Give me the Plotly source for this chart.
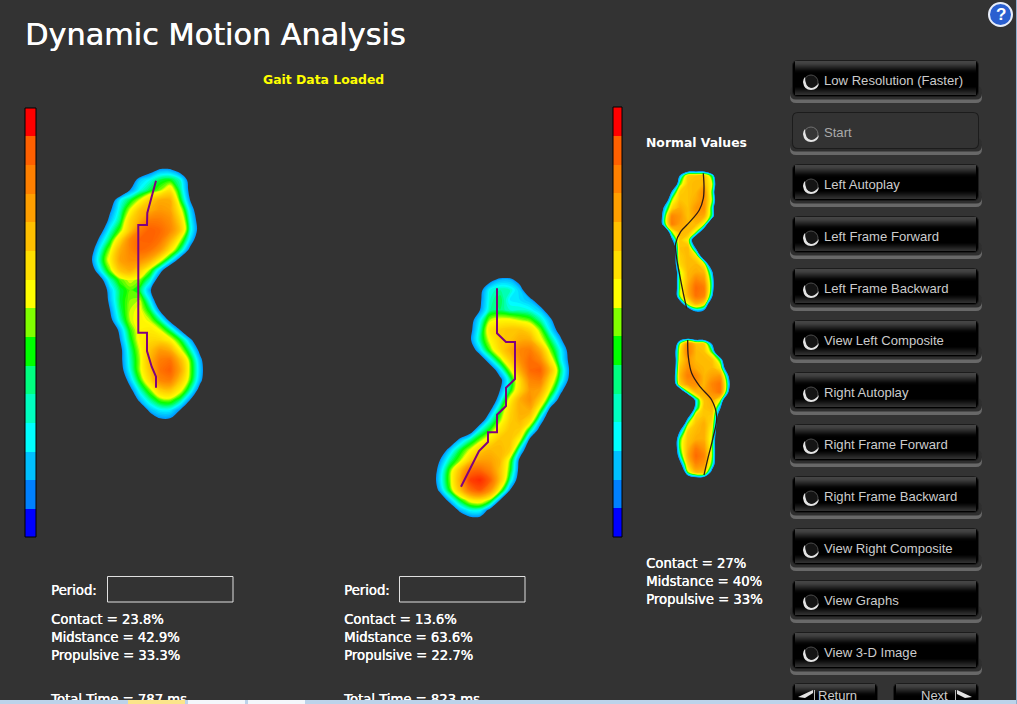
import plotly.graph_objects as go

# --- text
TITLE = "Dynamic Motion Analysis"
STATUS = "Gait Data Loaded"
BUTTON_LABELS = [
    "Low Resolution (Faster)", "Start", "Left Autoplay", "Left Frame Forward",
    "Left Frame Backward", "View Left Composite", "Right Autoplay",
    "Right Frame Forward", "Right Frame Backward", "View Right Composite",
    "View Graphs", "View 3-D Image",
]
LEFT_STATS = ["Contact = 23.8%", "Midstance = 42.9%", "Propulsive = 33.3%"]
RIGHT_STATS = ["Contact = 13.6%", "Midstance = 63.6%", "Propulsive = 22.7%"]
NORMAL_STATS = ["Contact = 27%", "Midstance = 40%", "Propulsive = 33%"]
LEFT_TOTAL = "Total Time = 787 ms"
RIGHT_TOTAL = "Total Time = 823 ms"

# --- pressure scale, top to bottom
BAR_COLORS = ["#ff0000", "#ff6000", "#ff8000", "#ff9f00", "#ffc000", "#ffdf00", "#ffff00",
              "#80ff00", "#00ff00", "#00ff80", "#00ffc0", "#00ffff", "#00c0ff", "#0080ff", "#0000ff"]
LEFT_BAR_EDGES = [108, 136, 165, 194, 222, 251, 280, 308, 337, 366, 394, 423, 452, 480, 509, 537]
RIGHT_BAR_EDGES = [107, 136, 165, 193, 222, 251, 279, 308, 336, 365, 394, 422, 451, 480, 508, 537]

# --- left foot pressure (below 0 = outside the foot)
LEFT_X = [90, 100, 110, 120, 130, 140, 150, 160, 170, 180, 190, 200, 210]
LEFT_Y = [160, 170, 180, 190, 200, 210, 220, 230, 240, 250, 260, 270, 280, 290,
          300, 310, 320, 330, 340, 350, 360, 370, 380, 390, 400, 410, 420, 430]
LEFT_Z = [
    [-10, -10, -10, -10, -10, -10, -10, -9, -9, -10, -10, -10, -10],
    [-10, -10, -10, -10, -10, -8, -3, 1, 1, -3, -10, -10, -10],
    [-10, -10, -10, -10, -5, 3, 6, 10, 11, 7, -3, -10, -10],
    [-10, -10, -10, -9, 0, 6, 10, 14, 20, 9, -2, -10, -10],
    [-10, -10, -5, 5, 10, 16, 24, 30, 30, 12, 0, -10, -10],
    [-10, -10, -1, 7, 16, 26, 30, 34, 32, 18, 4, -6, -10],
    [-10, -8, 2, 9, 22, 30, 40, 40, 36, 23, 6, -4, -10],
    [-10, -3, 6, 13, 25, 40, 46, 44, 38, 26, 7, -3, -10],
    [-8, 2, 10, 22, 38, 45, 46, 42, 30, 16, 4, -6, -10],
    [-4, 6, 15, 30, 38, 44, 42, 34, 20, 9, -2, -10, -10],
    [-2, 8, 18, 32, 36, 36, 30, 18, 7, -3, -10, -10, -10],
    [-5, 5, 14, 26, 30, 24, 14, 3, -7, -10, -10, -10, -10],
    [-10, -3, 7, 13, 16, 14, 7, -5, -10, -10, -10, -10, -10],
    [-10, -7, 3, 10, 13, 10, 1, -10, -10, -10, -10, -10, -10],
    [-10, -8, 2, 10, 14, 15, 5, -7, -10, -10, -10, -10, -10],
    [-10, -10, 0, 9, 15, 17, 10, -1, -10, -10, -10, -10, -10],
    [-10, -10, -2, 7, 15, 18, 15, 8, -2, -10, -10, -10, -10],
    [-10, -10, -8, 2, 12, 18, 19, 16, 9, 0, -10, -10, -10],
    [-10, -10, -10, 0, 10, 18, 22, 22, 18, 11, 2, -8, -10],
    [-10, -10, -10, -2, 8, 16, 26, 33, 30, 17, 8, -2, -10],
    [-10, -10, -10, -2, 7, 15, 28, 40, 42, 28, 13, 2, -8],
    [-10, -10, -10, -3, 6, 15, 26, 42, 46, 32, 14, 3, -7],
    [-10, -10, -10, -7, 3, 12, 22, 38, 40, 26, 13, 2, -8],
    [-10, -10, -10, -10, -2, 7, 14, 24, 26, 18, 8, -3, -10],
    [-10, -10, -10, -10, -8, 2, 8, 13, 14, 9, 0, -10, -10],
    [-10, -10, -10, -10, -10, -7, 2, 5, 5, 0, -10, -10, -10],
    [-10, -10, -10, -10, -10, -10, -6, -1, -1, -6, -10, -10, -10],
    [-10, -10, -10, -10, -10, -10, -10, -10, -10, -10, -10, -10, -10],
]
LEFT_PATH_X = [156, 153.3, 150, 147.3, 147, 138.3, 138.3, 147, 147, 151.7, 156, 156]
LEFT_PATH_Y = [180.7, 191.7, 205, 213, 225, 225, 332.7, 332.7, 351, 366.7, 376.7, 387.7]

# --- right foot pressure
RIGHT_X = [430, 440, 450, 460, 470, 480, 490, 500, 510, 520, 530, 540, 550, 560, 570, 580]
RIGHT_Y = [270, 280, 290, 300, 310, 320, 330, 340, 350, 360, 370, 380, 390, 400,
           410, 420, 430, 440, 450, 460, 470, 480, 490, 500, 510, 520, 530]
RIGHT_Z = [
    [-10, -10, -10, -10, -10, -10, -10, -10, -10, -10, -10, -10, -10, -10, -10, -10],
    [-10, -10, -10, -10, -10, -10, -2, 2, 2, -3, -10, -10, -10, -10, -10, -10],
    [-10, -10, -10, -10, -10, -2, 6, 8, 7, 3, -7, -10, -10, -10, -10, -10],
    [-10, -10, -10, -10, -10, -1, 7, 10, 5, 4, 2, -5, -10, -10, -10, -10],
    [-10, -10, -10, -10, -9, 0, 8, 9, 7, 7, 6, 3, -5, -10, -10, -10],
    [-10, -10, -10, -10, -3, 5, 15, 17, 17, 15, 13, 8, 2, -8, -10, -10],
    [-10, -10, -10, -10, -2, 7, 20, 24, 26, 26, 22, 14, 5, -3, -10, -10],
    [-10, -10, -10, -10, -1, 8, 17, 24, 26, 30, 30, 18, 10, 2, -8, -10],
    [-10, -10, -10, -10, -5, 4, 13, 22, 30, 38, 40, 30, 14, 6, -3, -10],
    [-10, -10, -10, -10, -10, -5, 4, 13, 24, 36, 44, 38, 20, 7, -2, -10],
    [-10, -10, -10, -10, -10, -10, -5, 4, 15, 30, 44, 46, 28, 10, -1, -10],
    [-10, -10, -10, -10, -10, -10, -10, -2, 8, 22, 38, 40, 22, 8, -2, -10],
    [-10, -10, -10, -10, -10, -10, -10, 0, 10, 22, 34, 32, 16, 3, -7, -10],
    [-10, -10, -10, -10, -10, -10, -7, 4, 18, 30, 36, 24, 8, -3, -10, -10],
    [-10, -10, -10, -10, -10, -10, -1, 10, 22, 30, 30, 14, -2, -10, -10, -10],
    [-10, -10, -10, -10, -10, -5, 6, 14, 24, 28, 22, 4, -7, -10, -10, -10],
    [-10, -10, -10, -10, -5, 6, 12, 20, 26, 24, 9, -3, -10, -10, -10, -10],
    [-10, -10, -7, 2, 8, 14, 20, 26, 26, 16, -2, -10, -10, -10, -10, -10],
    [-10, -6, 3, 10, 16, 24, 28, 28, 24, 5, -7, -10, -10, -10, -10, -10],
    [-10, 0, 8, 14, 24, 32, 32, 28, 14, -2, -10, -10, -10, -10, -10, -10],
    [-7, 3, 13, 26, 42, 44, 38, 26, 12, -3, -10, -10, -10, -10, -10, -10],
    [-6, 4, 14, 30, 52, 56, 46, 26, 8, -5, -10, -10, -10, -10, -10, -10],
    [-8, 2, 12, 26, 42, 48, 36, 16, 0, -10, -10, -10, -10, -10, -10, -10],
    [-10, -6, 3, 11, 18, 20, 14, 0, -10, -10, -10, -10, -10, -10, -10, -10],
    [-10, -10, -7, 2, 6, 6, -2, -10, -10, -10, -10, -10, -10, -10, -10, -10],
    [-10, -10, -10, -8, -3, -3, -8, -10, -10, -10, -10, -10, -10, -10, -10, -10],
    [-10, -10, -10, -10, -10, -10, -10, -10, -10, -10, -10, -10, -10, -10, -10, -10],
]
RIGHT_PATH_X = [497, 497, 506, 515, 515, 506, 506, 497, 497, 488, 488, 479, 461]
RIGHT_PATH_Y = [288.3, 333.3, 342, 342, 379, 387.7, 406, 414.7, 432.3, 432.3, 442, 451, 486.7]

# --- normal values, upper foot
NORMAL_TOP_X = [656, 664, 672, 680, 688, 696, 704, 712, 720]
NORMAL_TOP_Y = [168, 176, 184, 192, 200, 208, 216, 224, 232, 240, 248, 256, 264, 272, 280, 288, 296, 304, 312, 320]
NORMAL_TOP_Z = [
    [-40, -40, -40, -40, -26, -26, -26, -40, -40],
    [-40, -40, -40, 0, 24, 26, 26, 10, -40],
    [-40, -40, -30, 12, 26, 28, 28, 16, -30],
    [-40, -40, 0, 24, 26, 28, 36, 12, -40],
    [-40, -20, 14, 26, 26, 30, 36, 14, -30],
    [-40, 0, 22, 30, 26, 34, 36, 8, -40],
    [-30, 6, 38, 34, 26, 32, 30, 8, -40],
    [-30, 6, 40, 32, 28, 28, 16, -30, -40],
    [-40, -30, 14, 28, 28, 14, -20, -40, -40],
    [-40, -40, -5, 26, 18, -25, -40, -40, -40],
    [-40, -40, -25, 26, 28, -5, -40, -40, -40],
    [-40, -40, -25, 24, 28, 20, -20, -40, -40],
    [-40, -40, -25, 22, 28, 28, 18, -25, -40],
    [-40, -40, -30, 14, 28, 30, 28, 0, -40],
    [-40, -40, -30, 14, 28, 38, 34, 6, -40],
    [-40, -40, -30, 14, 30, 44, 40, 6, -40],
    [-40, -40, -30, 14, 28, 42, 38, 0, -40],
    [-40, -40, -40, -15, 16, 28, 20, -25, -40],
    [-40, -40, -40, -40, -25, -5, -10, -40, -40],
    [-40, -40, -40, -40, -40, -40, -40, -40, -40],
]
NORMAL_TOP_PATH_X = [703.3, 704, 703.3, 699.3, 690, 680.7, 675.7, 676.7, 680, 683.3, 686.7]
NORMAL_TOP_PATH_Y = [173.3, 186.7, 198.3, 210, 221.7, 231.7, 243.3, 258.3, 276.7, 293.3, 308.3]

# --- normal values, lower foot
NORMAL_BOTTOM_X = [664, 672, 680, 688, 696, 704, 712, 720, 728, 736]
NORMAL_BOTTOM_Y = [336, 344, 352, 360, 368, 376, 384, 392, 400, 408, 416, 424, 432, 440, 448, 456, 464, 472, 480, 488]
NORMAL_BOTTOM_Z = [
    [-40, -40, -24, -24, -30, -30, -40, -40, -40, -40],
    [-40, -30, 14, 38, 26, 24, -3, -40, -40, -40],
    [-40, -20, 20, 40, 28, 26, 12, -30, -40, -40],
    [-40, -25, 22, 34, 28, 28, 26, 10, -35, -40],
    [-40, -25, 26, 36, 30, 28, 28, 20, -20, -40],
    [-40, -20, 28, 40, 38, 28, 32, 34, 0, -40],
    [-40, -25, 24, 34, 36, 28, 38, 42, 6, -35],
    [-40, -40, -25, 12, 28, 30, 36, 42, 0, -40],
    [-40, -40, -40, -40, 4, 26, 30, 16, -30, -40],
    [-40, -40, -40, -35, 6, 26, 28, 0, -40, -40],
    [-40, -40, -40, -8, 22, 26, 24, -15, -40, -40],
    [-40, -40, -26, 14, 26, 30, 20, -20, -40, -40],
    [-40, -40, 0, 24, 28, 30, 16, -25, -40, -40],
    [-40, -26, 12, 26, 30, 30, 14, -30, -40, -40],
    [-40, -26, 12, 28, 40, 34, 14, -30, -40, -40],
    [-40, -30, 6, 30, 44, 38, 14, -30, -40, -40],
    [-40, -40, -8, 24, 38, 34, 10, -30, -40, -40],
    [-40, -40, -30, 14, 28, 26, -8, -40, -40, -40],
    [-40, -40, -40, -24, -20, -20, -40, -40, -40, -40],
    [-40, -40, -40, -40, -40, -40, -40, -40, -40, -40],
]
NORMAL_BOTTOM_PATH_X = [687.7, 688.3, 691.7, 700, 711.7, 716.7, 713.3, 708.3, 704]
NORMAL_BOTTOM_PATH_Y = [340, 356.7, 373.3, 386.7, 400, 416.7, 436.7, 456.7, 475]

BG = "#333333"
W, H = 1017, 704
ZMAX = 60


def foot(x, y, z, edge=-3):
    zmin = edge - 3

    def stop(v):
        return (v - zmin) / (ZMAX - zmin)

    scale = [
        [0, "rgba(0,144,255,0)"], [stop(edge - 0.01), "rgba(0,144,255,0)"], [stop(edge), "rgb(0,144,255)"],
        [stop(0), "rgb(0,200,255)"], [stop(3), "rgb(0,255,255)"], [stop(6), "rgb(0,255,144)"],
        [stop(9), "rgb(0,255,0)"], [stop(12), "rgb(128,255,0)"], [stop(14), "rgb(255,255,0)"],
        [stop(22), "rgb(255,208,0)"], [stop(31), "rgb(255,160,0)"], [stop(42), "rgb(255,112,0)"],
        [stop(55), "rgb(255,48,0)"], [1, "rgb(255,0,0)"],
    ]
    return go.Contour(
        x=x, y=y, z=z, zmin=zmin, zmax=ZMAX, colorscale=scale, showscale=False,
        autocontour=False, contours=dict(start=edge, end=ZMAX, size=1, coloring="fill"),
        line=dict(width=0, smoothing=1.0), hoverinfo="skip",
    )


def bar(left, right, edges):
    n = len(BAR_COLORS)
    scale = []
    for i, c in enumerate(BAR_COLORS):
        scale += [[i / n, c], [(i + 1) / n, c]]
    return go.Heatmap(
        x=[left, right], y=edges, z=[[i] for i in range(n)], zmin=-0.5, zmax=n - 0.5,
        colorscale=scale, showscale=False, hoverinfo="skip",
    )


def path(x, y, color, width, shape="linear"):
    return go.Scatter(x=x, y=y, mode="lines", line=dict(color=color, width=width, shape=shape), hoverinfo="skip")


def rounded(x0, y0, x1, y1, r):
    return (f"M {x0+r},{y0} L {x1-r},{y0} Q {x1},{y0} {x1},{y0+r} L {x1},{y1-r} Q {x1},{y1} {x1-r},{y1} "
            f"L {x0+r},{y1} Q {x0},{y1} {x0},{y1-r} L {x0},{y0+r} Q {x0},{y0} {x0+r},{y0} Z")


def rect(x0, y0, x1, y1, fill, line=None, layer="below"):
    return dict(type="rect", x0=x0, y0=y0, x1=x1, y1=y1, fillcolor=fill, layer=layer,
                line=dict(width=1 if line else 0, color=line or fill))


def blob(d, fill, layer="below"):
    return dict(type="path", path=d, fillcolor=fill, line=dict(width=0), layer=layer)


TOP_SHADES = ["#454545", "#434343", "#404040", "#3a3a3a", "#323232", "#2a2a2a", "#222222",
              "#1a1a1a", "#121212", "#0a0a0a", "#050505", "#020202"]
BOTTOM_SHADES = ["#040404", "#0a0a0a", "#101010", "#171717", "#1e1e1e", "#252525", "#2b2b2b", "#303030"]


def button(x0, x1, top, flat=False, lip=True):
    out = []
    if lip:
        out.append(blob(rounded(x0 - 2, top + 28, x1 + 3, top + 43, 6), "#686868"))
        out.append(blob(rounded(x0 - 2, top + 26, x1 + 3, top + 39.5, 6), "#2e2e2e"))
    out.append(blob(rounded(x0, top, x1, top + 37, 6), "#1c1c1c"))
    if flat:
        out.append(blob(rounded(x0 + 1, top + 1, x1 - 1, top + 36, 5), BG))
        return out
    out.append(blob(rounded(x0 + 1, top + 1, x1 - 1, top + 36, 5), "#000000"))
    for i, c in enumerate(TOP_SHADES):
        out.append(rect(x0 + 3, top + 1 + i, x1 - 3, top + 2 + i, c))
    for i, c in enumerate(BOTTOM_SHADES):
        out.append(rect(x0 + 3, top + 27 + i, x1 - 3, top + 28 + i, c))
    return out


def spinner(cx, cy, flat=False):
    body = "#363636" if flat else "#141414"
    ring = "#707070" if flat else "#4a4a4a"
    return [
        dict(type="circle", x0=cx - 7, y0=cy - 7, x1=cx + 7, y1=cy + 7, fillcolor=body,
             line=dict(width=1, color=ring), layer="below"),
        blob(f"M {cx-8},{cy} Q {cx-7},{cy+8} {cx},{cy+8} Q {cx+7},{cy+8} {cx+8},{cy+1} "
             f"Q {cx+4},{cy+6} {cx},{cy+6} Q {cx-6},{cy+5} {cx-6},{cy-5} Q {cx-8},{cy-3} {cx-8},{cy} Z",
             "#e4e4e4"),
    ]


fig = go.Figure()
fig.add_trace(bar(25, 36, LEFT_BAR_EDGES))
fig.add_trace(bar(613, 622, RIGHT_BAR_EDGES))
fig.add_trace(foot(LEFT_X, LEFT_Y, LEFT_Z))
fig.add_trace(foot(RIGHT_X, RIGHT_Y, RIGHT_Z))
fig.add_trace(foot(NORMAL_TOP_X, NORMAL_TOP_Y, NORMAL_TOP_Z, edge=-6))
fig.add_trace(foot(NORMAL_BOTTOM_X, NORMAL_BOTTOM_Y, NORMAL_BOTTOM_Z, edge=-6))
fig.add_trace(path(LEFT_PATH_X, LEFT_PATH_Y, "#800080", 2))
fig.add_trace(path(RIGHT_PATH_X, RIGHT_PATH_Y, "#800080", 2))
fig.add_trace(path(NORMAL_TOP_PATH_X, NORMAL_TOP_PATH_Y, "#2e1a14", 1.3, "spline"))
fig.add_trace(path(NORMAL_BOTTOM_PATH_X, NORMAL_BOTTOM_PATH_Y, "#2e1a14", 1.3, "spline"))

shapes = []
for i in range(len(BUTTON_LABELS)):
    top = 60 + 52 * i
    shapes += button(792, 979, top, flat=BUTTON_LABELS[i] == "Start")
    shapes += spinner(811, top + 22, flat=BUTTON_LABELS[i] == "Start")
shapes += button(792, 878, 683, lip=False)
shapes += button(893, 979, 683, lip=False)
shapes.append(blob("M 798,697 L 813,690 L 813,693 L 805,698 Z", "#e4e4e4"))
shapes.append(blob("M 957,690 L 972,697 L 965,698 L 957,694 Z", "#e4e4e4"))
shapes.append(rect(814, 690, 815, 700, "#bbbbbb"))
shapes.append(rect(955, 690, 956, 700, "#bbbbbb"))

# bar borders, period boxes
for x0, x1, y0, y1 in [(25, 36, 108, 537), (613, 622, 107, 537)]:
    shapes.append(dict(type="rect", x0=x0, x1=x1, y0=y0, y1=y1, line=dict(color="#000000", width=1), layer="above"))
for x0 in [107, 399]:
    shapes.append(dict(type="rect", x0=x0 + 0.5, x1=x0 + 126, y0=576.5, y1=602, line=dict(color="#e0e0e0", width=1), layer="below"))

# help icon
shapes.append(dict(type="circle", x0=989, y0=3, x1=1012, y1=26, fillcolor="#2a5fd0", line=dict(color="#e8eefa", width=2), layer="below"))

# taskbar covers the bottom of the page
shapes.append(rect(0, 700, W, H, "#bcd3ea", layer="above"))
shapes.append(rect(128, 700, 185, H, "#fbe58a", layer="above"))
shapes.append(rect(188, 700, 245, H, "#f4f7fb", layer="above"))
shapes.append(rect(248, 700, 305, H, "#f4f7fb", layer="above"))
shapes.append(rect(1016, 0, W, H, "#8fb0cf", layer="above"))

fig.update_layout(shapes=shapes)


def label(x, y, text, color="#ffffff", size=13, family="Liberation Sans", bold=False, anchor="left", shadow=None):
    t = f"<b>{text}</b>" if bold else text
    font = dict(color=color, size=size, family=family)
    if shadow:
        font["shadow"] = shadow
    # annotations sit 2px in from their anchor
    dx = -2 if anchor == "left" else 0
    fig.add_annotation(x=x + dx, y=y, text=t, showarrow=False, xanchor=anchor, yanchor="middle", font=font,
                       xref="x", yref="y")


def clipped_label(x, y, text, color="#ffffff", size=13, family="Liberation Sans", shadow="none"):
    fig.add_trace(go.Scatter(x=[x], y=[y], mode="text", text=[text], textposition="middle right", hoverinfo="skip",
                             textfont=dict(color=color, size=size, family=family, shadow=shadow)))


SEMI = "0.4px 0 0 #ffffff"
STAT = dict(size=13.2, family="DejaVu Sans", shadow=SEMI)

label(25, 34, TITLE, size=30.3, family="DejaVu Sans", shadow="0.5px 0 0 #ffffff")
label(323, 79, STATUS, color="#ffff00", bold=True, anchor="center", size=12.4, family="DejaVu Sans")
label(646, 142, "Normal Values", bold=True, size=12.4, family="DejaVu Sans")
label(51, 590, "Period:", **STAT)
label(344, 590, "Period:", **STAT)
for i in range(3):
    label(51, 619 + 18 * i, LEFT_STATS[i], **STAT)
    label(344, 619 + 18 * i, RIGHT_STATS[i], **STAT)
    label(646, 563 + 18 * i, NORMAL_STATS[i], **STAT)
clipped_label(51, 701, LEFT_TOTAL, **STAT)
clipped_label(344, 701, RIGHT_TOTAL, **STAT)
clipped_label(818, 697, "Return", color="#cccccc")
clipped_label(921, 697, "Next", color="#cccccc")

for i in range(len(BUTTON_LABELS)):
    color = "#aaaaaa" if BUTTON_LABELS[i] == "Start" else "#cccccc"
    label(824, 80 + 52 * i, BUTTON_LABELS[i], color=color, size=13.1)
label(1000.5, 14.5, "?", size=17, bold=True, anchor="center")

fig.update_layout(
    width=W, height=H, margin=dict(l=0, r=0, t=0, b=0), showlegend=False,
    paper_bgcolor=BG, plot_bgcolor=BG,
    xaxis=dict(range=[0, W], visible=False, fixedrange=True),
    yaxis=dict(range=[H, 0], visible=False, fixedrange=True),
)

fig.write_html("out.html", config=dict(displayModeBar=False),
               post_script="document.body.style.margin='0';document.body.style.overflow='hidden';")
